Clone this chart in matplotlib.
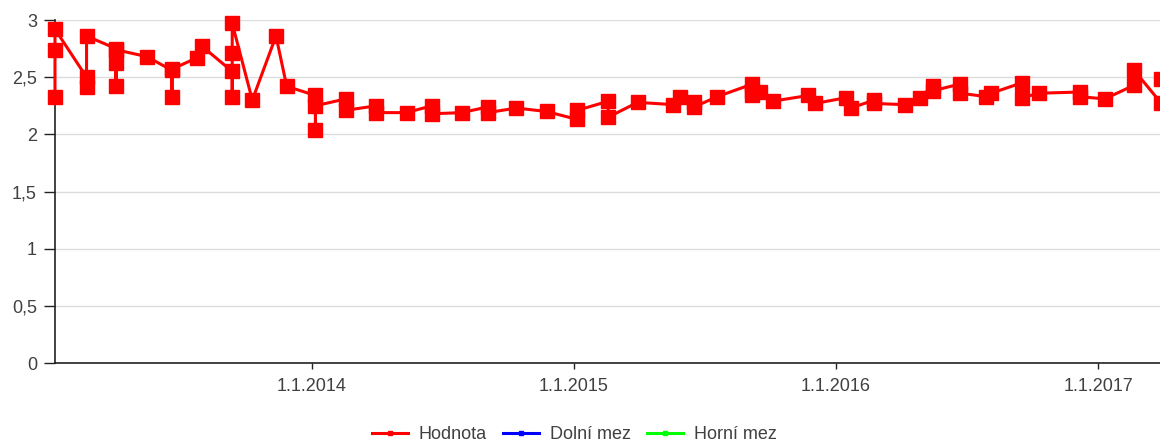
import numpy as np
import pandas as pd
import matplotlib
matplotlib.use("Agg")
import matplotlib.pyplot as plt
from matplotlib.lines import Line2D

# measured values (several readings can share one date)
dates = [
    "2013-01-08", "2013-01-08", "2013-01-08",
    "2013-02-21", "2013-02-21", "2013-02-21",
    "2013-04-03", "2013-04-03", "2013-04-03", "2013-04-03",
    "2013-05-16",
    "2013-06-20", "2013-06-20", "2013-06-20",
    "2013-07-25", "2013-08-01",
    "2013-09-12", "2013-09-12", "2013-09-12", "2013-09-12",
    "2013-10-10", "2013-11-12", "2013-11-27",
    "2014-01-06", "2014-01-06", "2014-01-06",
    "2014-02-17", "2014-02-17",
    "2014-04-01", "2014-04-01",
    "2014-05-13",
    "2014-06-17", "2014-06-17",
    "2014-07-29",
    "2014-09-03", "2014-09-03",
    "2014-10-13", "2014-11-24",
    "2015-01-06", "2015-01-06",
    "2015-02-18", "2015-02-18",
    "2015-03-31", "2015-05-19", "2015-05-29",
    "2015-06-18", "2015-06-18",
    "2015-07-20",
    "2015-09-07", "2015-09-07", "2015-09-07",
    "2015-09-17", "2015-10-05",
    "2015-11-24", "2015-12-03",
    "2016-01-15", "2016-01-22",
    "2016-02-24", "2016-02-24",
    "2016-04-06", "2016-04-27",
    "2016-05-15", "2016-05-15",
    "2016-06-22", "2016-06-22",
    "2016-07-29", "2016-08-05",
    "2016-09-16", "2016-09-16",
    "2016-10-11",
    "2016-12-06", "2016-12-06",
    "2017-01-10",
    "2017-02-20", "2017-02-20",
    "2017-03-30", "2017-03-30",
]
hodnota = [
    2.33, 2.74, 2.92,
    2.50, 2.41, 2.86,
    2.75, 2.42, 2.62, 2.74,
    2.68,
    2.56, 2.33, 2.57,
    2.67, 2.77,
    2.55, 2.33, 2.71, 2.97,
    2.30, 2.86, 2.42,
    2.34, 2.04, 2.25,
    2.31, 2.21,
    2.25, 2.19,
    2.19,
    2.25, 2.18,
    2.19,
    2.24, 2.19,
    2.23, 2.20,
    2.13, 2.21,
    2.29, 2.15,
    2.28, 2.26, 2.33,
    2.28, 2.24,
    2.33,
    2.44, 2.38, 2.34,
    2.37, 2.29,
    2.34, 2.27,
    2.32, 2.23,
    2.30, 2.27,
    2.26, 2.32,
    2.42, 2.38,
    2.44, 2.36,
    2.33, 2.36,
    2.45, 2.32,
    2.36,
    2.37, 2.33,
    2.31,
    2.43, 2.56,
    2.27, 2.48,
]
dolni_mez = []
horni_mez = []

y_ticks = [0, 0.5, 1, 1.5, 2, 2.5, 3]
y_labels = ["0", "0,5", "1", "1,5", "2", "2,5", "3"]
x_ticks = ["2014-01-01", "2015-01-01", "2016-01-01", "2017-01-01"]
x_labels = ["1.1.2014", "1.1.2015", "1.1.2016", "1.1.2017"]

plt.rcParams["font.family"] = ["Liberation Sans", "DejaVu Sans"]
text_color = "#404040"
fs = 13

fig = plt.figure(figsize=(11.6, 4.42), dpi=100)
ax = fig.add_axes([0.0474, 0.1787, 0.9526, 0.776])

x = pd.to_datetime(dates)
ax.plot(x, hodnota, color="#ff0000", lw=2.2, marker="s", ms=9.5,
        mec="#ff0000", mfc="#ff0000", clip_on=False, zorder=3)
ax.plot(pd.to_datetime(dolni_mez), dolni_mez, color="#0000ff", lw=2.2)
ax.plot(pd.to_datetime(horni_mez), horni_mez, color="#00ff00", lw=2.2)

ax.set_ylim(0, 3)
ax.set_xlim(pd.Timestamp("2013-01-08"), pd.Timestamp("2017-03-28"))

ax.set_yticks(y_ticks)
ax.set_yticklabels(y_labels)
ax.set_xticks(pd.to_datetime(x_ticks))
ax.set_xticklabels(x_labels)

ax.grid(axis="y", color="#dcdcdc", lw=1)
ax.set_axisbelow(True)
for s in ["top", "right"]:
    ax.spines[s].set_visible(False)
for s in ["left", "bottom"]:
    ax.spines[s].set_color("#222222")
    ax.spines[s].set_linewidth(1.2)

ax.tick_params(axis="y", length=8, width=1, colors="#222222",
               labelcolor=text_color, labelsize=fs, pad=5)
ax.tick_params(axis="x", length=4, width=1, colors="#222222",
               labelcolor=text_color, labelsize=fs, pad=7)

handles = [
    Line2D([], [], color="#ff0000", lw=2.2, marker="s", ms=2.5),
    Line2D([], [], color="#0000ff", lw=2.2, marker="s", ms=2.5),
    Line2D([], [], color="#00ff00", lw=2.2, marker="s", ms=2.5),
]
leg = fig.legend(handles, ["Hodnota", "Dolní mez", "Horní mez"],
                 loc="lower center", bbox_to_anchor=(0.495, -0.04), ncol=3,
                 frameon=False, fontsize=fs, handlelength=2.0,
                 columnspacing=0.9, handletextpad=0.6)
for t in leg.get_texts():
    t.set_color(text_color)

fig.savefig("out.png", dpi=100)
